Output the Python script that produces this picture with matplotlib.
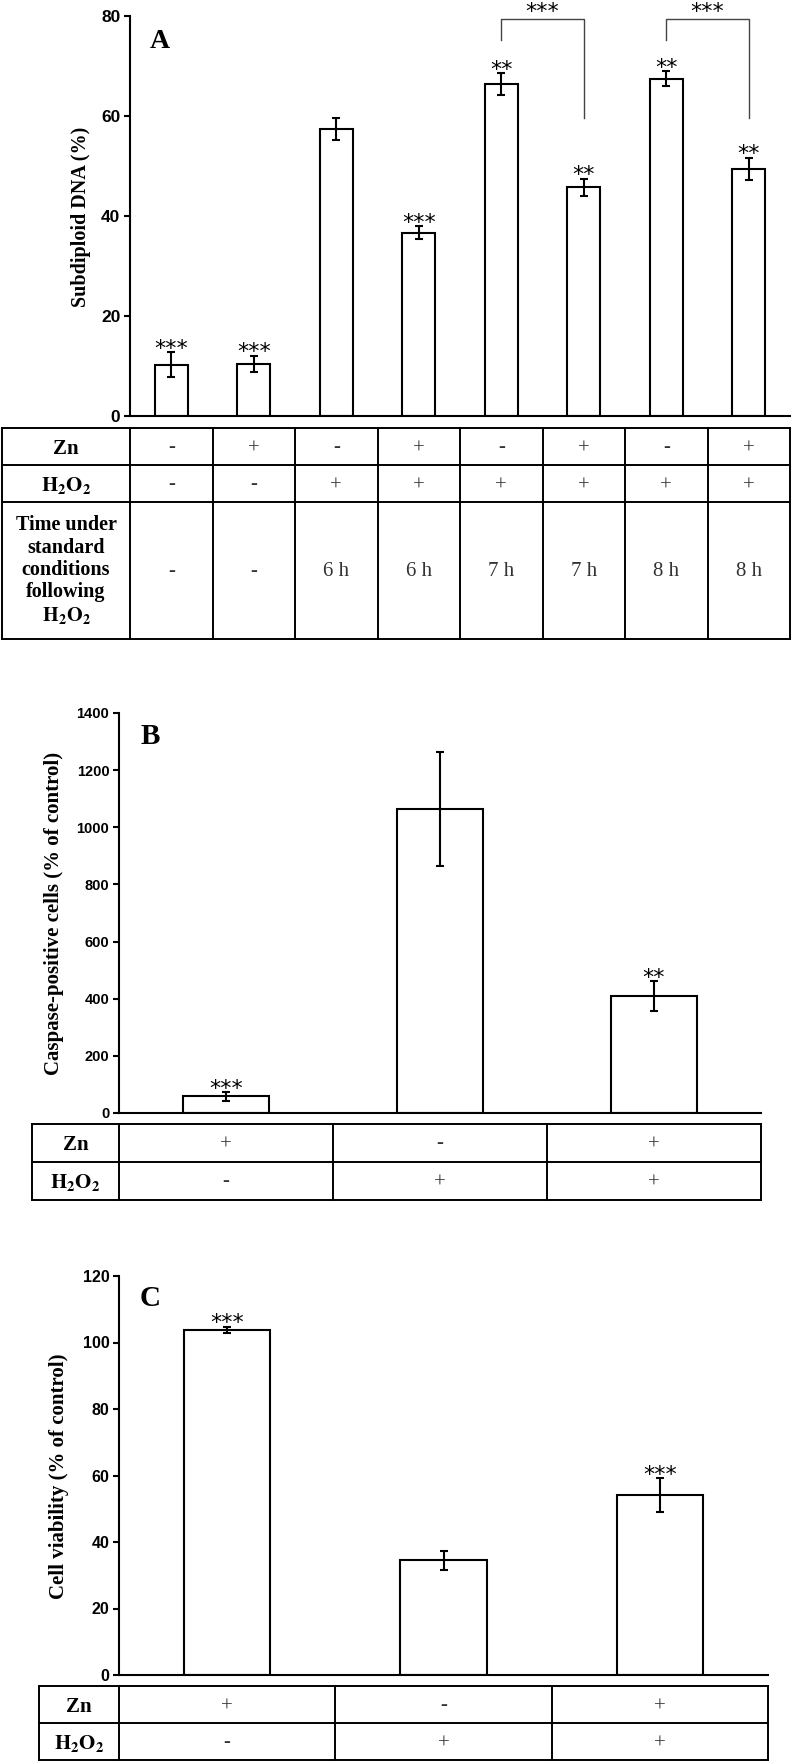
import numpy as np
import matplotlib
matplotlib.use("Agg")
import matplotlib.pyplot as plt

plt.rcParams['mathtext.fontset'] = 'stix'
W, H = 791, 1761
SERIF = 'Liberation Serif'
SANS = 'Liberation Sans'
H2O2 = r'$\mathbf{H_2O_2}$'

# panel A: subdiploid DNA
a_mean = [10.3, 10.5, 57.5, 36.7, 66.4, 45.8, 67.5, 49.5]
a_err = [2.5, 1.6, 2.2, 1.2, 2.2, 1.7, 1.5, 2.2]
a_stars = ['***', '***', '', '***', '**', '**', '**', '**']
a_zn = ['-', '+', '-', '+', '-', '+', '-', '+']
a_h2o2 = ['-', '-', '+', '+', '+', '+', '+', '+']
a_time = ['-', '-', '6 h', '6 h', '7 h', '7 h', '8 h', '8 h']
a_pairs = [(4, 5), (6, 7)]
a_pair_top = 79.5
a_pair_legs = [(75.2, 59.7), (75.3, 59.7)]
a_pair_stars = ['***', '***']

# panel B: caspase-positive cells
b_mean = [58, 1064, 410]
b_err = [15, 201, 52]
b_stars = ['***', '', '**']
b_zn = ['+', '-', '+']
b_h2o2 = ['-', '+', '+']

# panel C: cell viability
c_mean = [103.8, 34.5, 54.0]
c_err = [1.0, 2.8, 5.1]
c_stars = ['***', '', '***']
c_zn = ['+', '-', '+']
c_h2o2 = ['-', '+', '+']

fig = plt.figure(figsize=(W / 100, H / 100), dpi=100)
ov = fig.add_axes([0, 0, 1, 1])
ov.set_xlim(0, W)
ov.set_ylim(H, 0)
ov.axis('off')


def bar_panel(left, right, y0, ytop, mean, err, stars, ymax, yticks, tick_fs):
    ax = fig.add_axes([left / W, 1 - y0 / H, (right - left) / W, (y0 - ytop) / H])
    ax.set_facecolor('none')
    x = np.arange(len(mean))
    ax.bar(x, mean, width=0.4, color='white', edgecolor='black', linewidth=1.5, zorder=2)
    ax.errorbar(x, mean, yerr=err, fmt='none', ecolor='black', elinewidth=1.5,
                capsize=3, capthick=1.5, zorder=3)
    for i in range(len(mean)):
        if stars[i]:
            ax.annotate(stars[i], (x[i], mean[i] + err[i]), xytext=(0, -2),
                        textcoords='offset points', ha='center', va='baseline',
                        fontsize=16, family='DejaVu Sans')
    ax.set_xlim(-0.5, len(mean) - 0.5)
    ax.set_ylim(0, ymax)
    ax.set_xticks([])
    ax.set_yticks(yticks)
    ax.tick_params(axis='y', direction='out', length=4, width=1.5, pad=3, labelsize=tick_fs)
    for lab in ax.get_yticklabels():
        lab.set_fontweight('bold')
        lab.set_family(SANS)
    for s in ['top', 'right']:
        ax.spines[s].set_visible(False)
    for s in ['left', 'bottom']:
        ax.spines[s].set_linewidth(1.5)
    return ax


def table(left, top, first_w, slot_w, row_h, labels, rows):
    n = len(rows[0])
    xs = [left, left + first_w] + [left + first_w + slot_w * (i + 1) for i in range(n)]
    ys = np.cumsum([top] + row_h)
    for y in ys:
        ov.plot([xs[0], xs[-1]], [y, y], color='black', lw=1.4)
    for xv in xs:
        ov.plot([xv, xv], [ys[0], ys[-1]], color='black', lw=1.4)
    for r in range(len(labels)):
        yc = (ys[r] + ys[r + 1]) / 2
        if '\n' in labels[r]:
            ov.text((xs[0] + xs[1]) / 2, yc, labels[r], ha='center', va='center',
                    fontsize=14.5, fontweight='bold', family=SERIF, linespacing=1.15)
        else:
            ov.text((xs[0] + xs[1]) / 2, yc + 7, labels[r], ha='center', va='baseline',
                    fontsize=15, fontweight='bold', family=SERIF)
        for i in range(n):
            s = rows[r][i]
            dy = 7 if s == '+' else 5.5
            ov.text((xs[i + 1] + xs[i + 2]) / 2, yc + dy, s, ha='center', va='baseline',
                    fontsize=15, family=SERIF, color='#333333')


# ---- A ----
axA = bar_panel(130, 790, 416, 16, a_mean, a_err, a_stars, 80, [0, 20, 40, 60, 80], 12.5)
for k in range(len(a_pairs)):
    i, j = a_pairs[k]
    axA.plot([i, i, j, j], [a_pair_legs[k][0], a_pair_top, a_pair_top, a_pair_legs[k][1]],
             color='#444444', lw=1, clip_on=False)
    axA.annotate(a_pair_stars[k], ((i + j) / 2, a_pair_top), xytext=(0, 0),
                 textcoords='offset points', ha='center', va='baseline',
                 fontsize=16, family='DejaVu Sans', annotation_clip=False)
ov.text(160, 42, 'A', ha='center', va='center', fontsize=20, fontweight='bold', family=SERIF)
ov.text(81, 217, 'Subdiploid DNA (%)', rotation=90, ha='center', va='center',
        fontsize=14.5, fontweight='bold', family=SERIF)
table(2, 428, 128, (790 - 130) / 8, [37, 37, 137],
      ['Zn', H2O2, 'Time under\nstandard\nconditions\nfollowing\n' + H2O2],
      [a_zn, a_h2o2, a_time])

# ---- B ----
axB = bar_panel(119, 761, 1113, 713, b_mean, b_err, b_stars, 1400,
                [0, 200, 400, 600, 800, 1000, 1200, 1400], 10.5)
ov.text(150, 737, 'B', ha='center', va='center', fontsize=21, fontweight='bold', family=SERIF)
ov.text(54, 913, 'Caspase-positive cells (% of control)', rotation=90, ha='center', va='center',
        fontsize=15, fontweight='bold', family=SERIF)
table(32, 1124, 87, (761 - 119) / 3, [38, 38], ['Zn', H2O2], [b_zn, b_h2o2])

# ---- C ----
axC = bar_panel(119, 768, 1675, 1276, c_mean, c_err, c_stars, 120,
                [0, 20, 40, 60, 80, 100, 120], 11.5)
ov.text(150, 1299, 'C', ha='center', va='center', fontsize=21, fontweight='bold', family=SERIF)
ov.text(59, 1476, 'Cell viability (% of control)', rotation=90, ha='center', va='center',
        fontsize=15, fontweight='bold', family=SERIF)
table(39, 1686, 80, (768 - 119) / 3, [37, 37], ['Zn', H2O2], [c_zn, c_h2o2])

fig.savefig('out.png', dpi=100)
